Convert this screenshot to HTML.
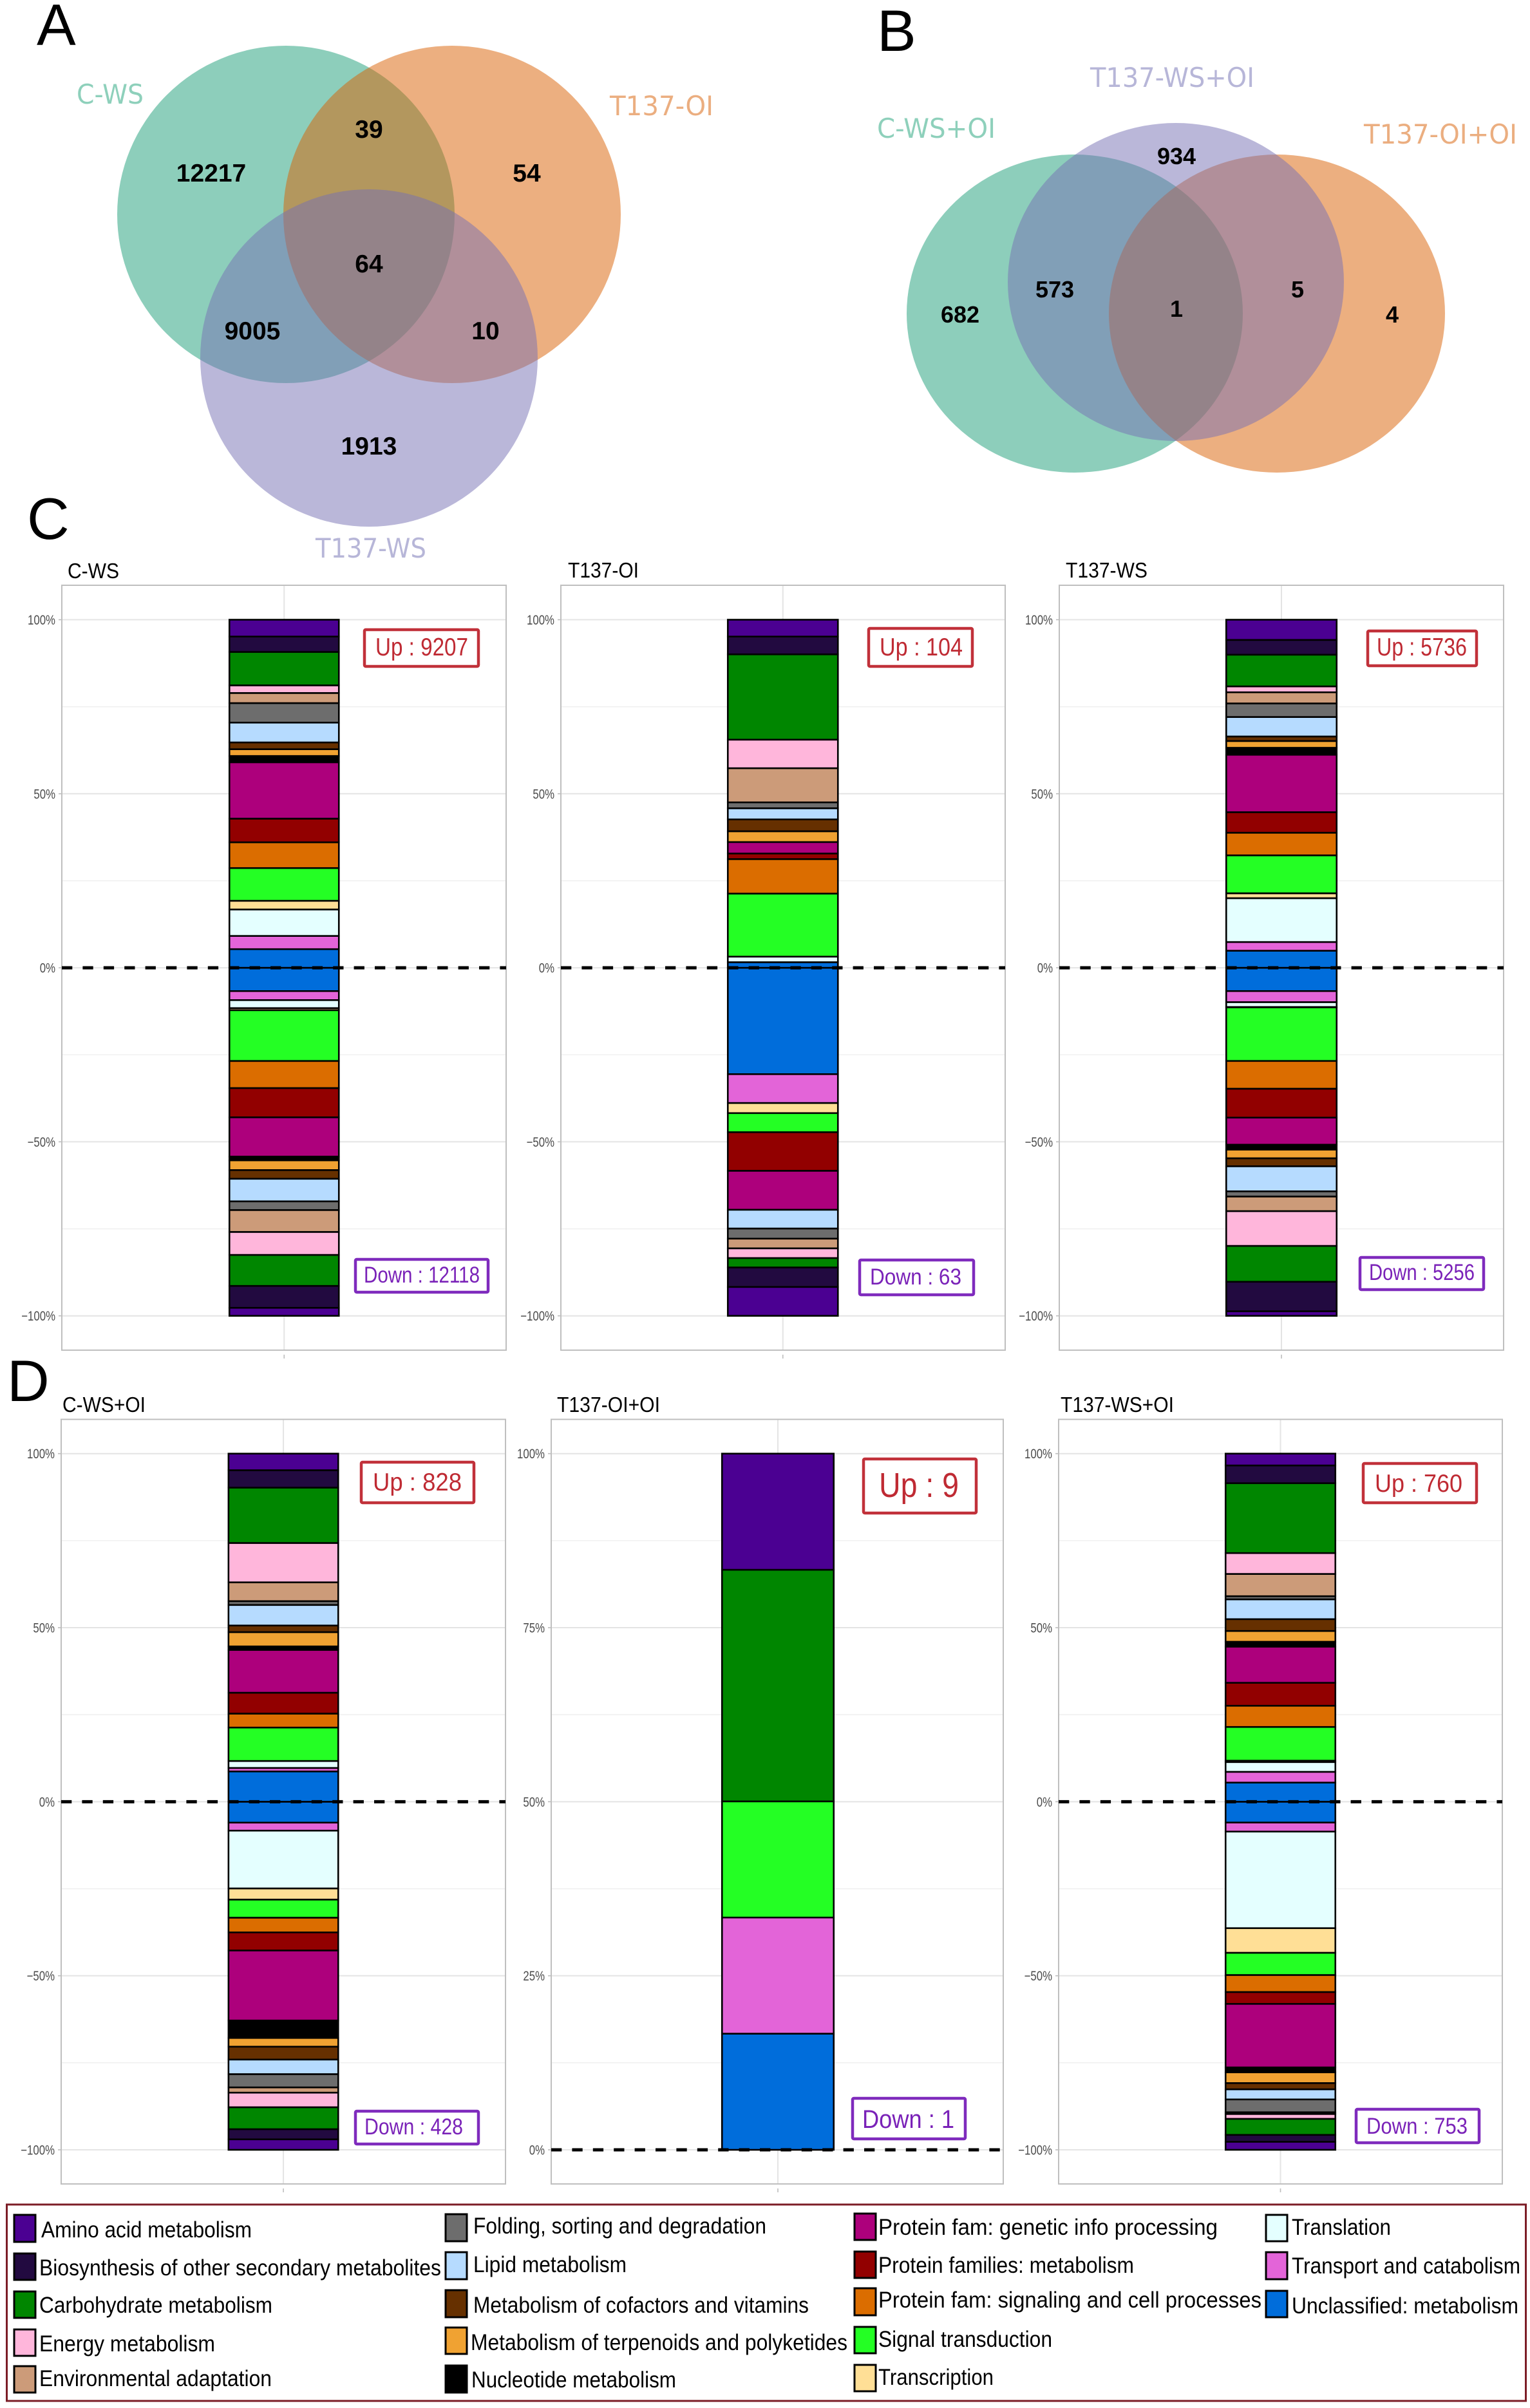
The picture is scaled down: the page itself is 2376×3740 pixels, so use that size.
<!DOCTYPE html>
<html lang="en">
<head>
<meta charset="utf-8">
<title>Venn diagrams and functional category stacked bars</title>
<style>
  html, body { margin: 0; padding: 0; background: #fff; }
  svg { display: block; font-family: "Liberation Sans", Arial, sans-serif; }
  .venn-label { font-family: "DejaVu Sans", "Liberation Sans", sans-serif; font-size: 42px; }
  .num-a { font-weight: 700; font-size: 39px; text-anchor: middle; fill: #000; }
  .num-b { font-weight: 700; font-size: 36px; text-anchor: middle; fill: #000; }
  .panel-letter { font-size: 91px; fill: #000; }
  .panel-title { font-size: 33px; fill: #000; }
  .up-box { fill: #fff; stroke: #c1313a; stroke-width: 4.5; }
  .down-box { fill: #fff; stroke: #7f2bbd; stroke-width: 4.5; }
  .up-text { fill: #bf2a33; font-size: 39px; }
  .down-text { fill: #7a22b8; font-size: 35px; }
  .leg-sw { stroke: #000; stroke-width: 3; }
  .leg-tx { font-size: 35px; fill: #000; }
</style>
</head>
<body>
<svg id="figure" xmlns="http://www.w3.org/2000/svg" width="2376" height="3740" viewBox="0 0 2376 3740">
  <rect x="0" y="0" width="2376" height="3740" fill="#fff"/>

  <!-- Panel letters -->
  <text class="panel-letter" x="57" y="70">A</text>
  <text class="panel-letter" x="1362" y="79">B</text>
  <text class="panel-letter" x="42" y="837">C</text>
  <text class="panel-letter" x="11" y="2176">D</text>

  <!-- Venn A -->
  <g>
    <ellipse cx="444" cy="333" rx="262" ry="262" fill="#1b9e77" fill-opacity="0.5"/>
    <ellipse cx="702" cy="333" rx="262" ry="262" fill="#d95f02" fill-opacity="0.5"/>
    <ellipse cx="573" cy="556" rx="262" ry="262" fill="#7570b3" fill-opacity="0.5"/>
    <text class="venn-label" x="119" y="161" fill="#8ed0bb" textLength="104" lengthAdjust="spacingAndGlyphs">C-WS</text>
    <text class="venn-label" x="947" y="179" fill="#ebae80" textLength="161" lengthAdjust="spacingAndGlyphs">T137-OI</text>
    <text class="venn-label" x="490" y="866" fill="#b7b6d8" textLength="172" lengthAdjust="spacingAndGlyphs">T137-WS</text>
    <text class="num-a" x="328" y="282">12217</text>
    <text class="num-a" x="573" y="214">39</text>
    <text class="num-a" x="818" y="282">54</text>
    <text class="num-a" x="573" y="423">64</text>
    <text class="num-a" x="392" y="527">9005</text>
    <text class="num-a" x="754" y="527">10</text>
    <text class="num-a" x="573" y="706">1913</text>
  </g>

  <!-- Venn B -->
  <g>
    <ellipse cx="1669" cy="487" rx="261" ry="247" fill="#1b9e77" fill-opacity="0.5"/>
    <ellipse cx="1983" cy="487" rx="261" ry="247" fill="#d95f02" fill-opacity="0.5"/>
    <ellipse cx="1826" cy="438" rx="261" ry="247" fill="#7570b3" fill-opacity="0.5"/>
    <text class="venn-label" x="1693" y="135" fill="#b7b6d8" textLength="255" lengthAdjust="spacingAndGlyphs">T137-WS+OI</text>
    <text class="venn-label" x="1362" y="214" fill="#8ed0bb" textLength="184" lengthAdjust="spacingAndGlyphs">C-WS+OI</text>
    <text class="venn-label" x="2118" y="223" fill="#ebae80" textLength="238" lengthAdjust="spacingAndGlyphs">T137-OI+OI</text>
    <text class="num-b" x="1827" y="255">934</text>
    <text class="num-b" x="1638" y="462">573</text>
    <text class="num-b" x="1491" y="501">682</text>
    <text class="num-b" x="1827" y="492">1</text>
    <text class="num-b" x="2015" y="462">5</text>
    <text class="num-b" x="2162" y="501">4</text>
  </g>

  <!-- Panel titles -->
  <text class="panel-title" x="105" y="898" textLength="80" lengthAdjust="spacingAndGlyphs">C-WS</text>
  <text class="panel-title" x="882" y="897" textLength="110" lengthAdjust="spacingAndGlyphs">T137-OI</text>
  <text class="panel-title" x="1655" y="897" textLength="127" lengthAdjust="spacingAndGlyphs">T137-WS</text>
  <text class="panel-title" x="97" y="2193" textLength="129" lengthAdjust="spacingAndGlyphs">C-WS+OI</text>
  <text class="panel-title" x="865" y="2193" textLength="160" lengthAdjust="spacingAndGlyphs">T137-OI+OI</text>
  <text class="panel-title" x="1647" y="2193" textLength="176" lengthAdjust="spacingAndGlyphs">T137-WS+OI</text>

  <g id="plots"></g>

  <!-- Up / Down annotations -->
  <g>
    <rect class="up-box" x="566" y="978" width="177" height="57" rx="2"/>
    <text class="up-text" x="583" y="1018" textLength="144" lengthAdjust="spacingAndGlyphs">Up : 9207</text>
    <rect class="down-box" x="552" y="1956" width="206" height="51" rx="2"/>
    <text class="down-text" x="565" y="1992" textLength="180" lengthAdjust="spacingAndGlyphs">Down : 12118</text>

    <rect class="up-box" x="1349" y="976" width="161" height="59" rx="2"/>
    <text class="up-text" x="1366" y="1018" textLength="129" lengthAdjust="spacingAndGlyphs">Up : 104</text>
    <rect class="down-box" x="1335" y="1957" width="177" height="54" rx="2"/>
    <text class="down-text" x="1351" y="1995" textLength="142" lengthAdjust="spacingAndGlyphs">Down : 63</text>

    <rect class="up-box" x="2124" y="980" width="169" height="54" rx="2"/>
    <text class="up-text" x="2138" y="1018" textLength="140" lengthAdjust="spacingAndGlyphs">Up : 5736</text>
    <rect class="down-box" x="2112" y="1953" width="192" height="50" rx="2"/>
    <text class="down-text" x="2126" y="1988" textLength="164" lengthAdjust="spacingAndGlyphs">Down : 5256</text>

    <rect class="up-box" x="561" y="2271" width="175" height="63" rx="2"/>
    <text class="up-text" x="579" y="2315" textLength="138" lengthAdjust="spacingAndGlyphs">Up : 828</text>
    <rect class="down-box" x="552" y="3279" width="191" height="51" rx="2"/>
    <text class="down-text" x="566" y="3315" textLength="153" lengthAdjust="spacingAndGlyphs">Down : 428</text>

    <rect class="up-box" x="1341" y="2266" width="175" height="84" rx="2"/>
    <text class="up-text" x="1365" y="2325" style="font-size:54px" textLength="124" lengthAdjust="spacingAndGlyphs">Up : 9</text>
    <rect class="down-box" x="1324" y="3259" width="175" height="63" rx="2"/>
    <text class="down-text" x="1339" y="3305" style="font-size:40px" textLength="143" lengthAdjust="spacingAndGlyphs">Down : 1</text>

    <rect class="up-box" x="2117" y="2273" width="176" height="61" rx="2"/>
    <text class="up-text" x="2135" y="2317" textLength="136" lengthAdjust="spacingAndGlyphs">Up : 760</text>
    <rect class="down-box" x="2106" y="3276" width="191" height="52" rx="2"/>
    <text class="down-text" x="2122" y="3314" textLength="157" lengthAdjust="spacingAndGlyphs">Down : 753</text>
  </g>

  <!-- Legend -->
  <g>
    <rect x="10.5" y="3424" width="2359" height="305" fill="none" stroke="#7c1d27" stroke-width="3"/>

    <g><rect class="leg-sw" x="22" y="3440" width="33" height="42" fill="#4b0092"/><text class="leg-tx" x="64" y="3475" textLength="327" lengthAdjust="spacingAndGlyphs">Amino acid metabolism</text></g>
    <g><rect class="leg-sw" x="22" y="3500" width="33" height="41" fill="#220a40"/><text class="leg-tx" x="61" y="3534" textLength="624" lengthAdjust="spacingAndGlyphs">Biosynthesis of other secondary metabolites</text></g>
    <g><rect class="leg-sw" x="22" y="3559" width="33" height="41" fill="#008600"/><text class="leg-tx" x="61" y="3592" textLength="362" lengthAdjust="spacingAndGlyphs">Carbohydrate metabolism</text></g>
    <g><rect class="leg-sw" x="22" y="3618" width="33" height="41" fill="#ffb6db"/><text class="leg-tx" x="61" y="3652" textLength="273" lengthAdjust="spacingAndGlyphs">Energy metabolism</text></g>
    <g><rect class="leg-sw" x="22" y="3675" width="33" height="41" fill="#cc9b79"/><text class="leg-tx" x="61" y="3706" textLength="361" lengthAdjust="spacingAndGlyphs">Environmental adaptation</text></g>

    <g><rect class="leg-sw" x="692" y="3439" width="33" height="42" fill="#6d6d6d"/><text class="leg-tx" x="735" y="3469" textLength="455" lengthAdjust="spacingAndGlyphs">Folding, sorting and degradation</text></g>
    <g><rect class="leg-sw" x="692" y="3498" width="33" height="42" fill="#b6dbff"/><text class="leg-tx" x="735" y="3529" textLength="238" lengthAdjust="spacingAndGlyphs">Lipid metabolism</text></g>
    <g><rect class="leg-sw" x="692" y="3557" width="33" height="42" fill="#663000"/><text class="leg-tx" x="735" y="3592" textLength="521" lengthAdjust="spacingAndGlyphs">Metabolism of cofactors and vitamins</text></g>
    <g><rect class="leg-sw" x="692" y="3615" width="33" height="41" fill="#f0a232"/><text class="leg-tx" x="731" y="3650" textLength="585" lengthAdjust="spacingAndGlyphs">Metabolism of terpenoids and polyketides</text></g>
    <g><rect class="leg-sw" x="692" y="3674" width="33" height="42" fill="#000"/><text class="leg-tx" x="732" y="3708" textLength="318" lengthAdjust="spacingAndGlyphs">Nucleotide metabolism</text></g>

    <g><rect class="leg-sw" x="1327" y="3438" width="33" height="41" fill="#ad007c"/><text class="leg-tx" x="1364" y="3471" textLength="527" lengthAdjust="spacingAndGlyphs">Protein fam: genetic info processing</text></g>
    <g><rect class="leg-sw" x="1327" y="3497" width="33" height="41" fill="#920000"/><text class="leg-tx" x="1364" y="3530" textLength="397" lengthAdjust="spacingAndGlyphs">Protein families: metabolism</text></g>
    <g><rect class="leg-sw" x="1327" y="3554" width="33" height="42" fill="#db6d00"/><text class="leg-tx" x="1364" y="3584" textLength="595" lengthAdjust="spacingAndGlyphs">Protein fam: signaling and cell processes</text></g>
    <g><rect class="leg-sw" x="1327" y="3614" width="33" height="41" fill="#24ff24"/><text class="leg-tx" x="1364" y="3645" textLength="270" lengthAdjust="spacingAndGlyphs">Signal transduction</text></g>
    <g><rect class="leg-sw" x="1327" y="3673" width="33" height="41" fill="#ffdf96"/><text class="leg-tx" x="1364" y="3704" textLength="179" lengthAdjust="spacingAndGlyphs">Transcription</text></g>

    <g><rect class="leg-sw" x="1966" y="3440" width="33" height="41" fill="#e4ffff"/><text class="leg-tx" x="2006" y="3471" textLength="154" lengthAdjust="spacingAndGlyphs">Translation</text></g>
    <g><rect class="leg-sw" x="1966" y="3498" width="33" height="42" fill="#e364d8"/><text class="leg-tx" x="2006" y="3531" textLength="355" lengthAdjust="spacingAndGlyphs">Transport and catabolism</text></g>
    <g><rect class="leg-sw" x="1966" y="3558" width="33" height="41" fill="#006ddb"/><text class="leg-tx" x="2006" y="3593" textLength="352" lengthAdjust="spacingAndGlyphs">Unclassified: metabolism</text></g>
  </g>
</svg>

<script>
// Category order, top of the stack to the zero line
const categories = ["amino-acid","biosynthesis","carbohydrate","energy","environmental","folding","lipid","cofactors","terpenoids","nucleotide","genetic-info","protein-families","signaling","signal-transduction","transcription","translation","transport","unclassified"];
const categoryColors = ["#4b0092","#220a40","#008600","#ffb6db","#cc9b79","#6d6d6d","#b6dbff","#663000","#f0a232","#000000","#ad007c","#920000","#db6d00","#24ff24","#ffdf96","#e4ffff","#e364d8","#006ddb"];

// Percent of genes in each category, same order as categories
const cwsUp   = [4.84,4.42,9.6,2.2,2.9,5.6,5.7,1.95,1.95,1.8,16.2,6.8,7.4,9.4,2.5,7.6,3.8,5.35];
const cwsDown = [2.3,6.3,8.9,6.6,6.3,2.5,6.5,2.5,2.8,1.06,11.3,8.4,7.8,14.6,0.6,2.3,2.6,6.7];
const oiUp    = [4.84,5.1,24.5,8.2,9.8,1.7,3.2,3.4,3.1,0,3.3,1.6,9.9,18.1,0,1.6,0,1.6];
const oiDown  = [8.3,5.6,2.7,2.8,2.8,2.9,5.4,0,0,0,11.2,11.1,0,5.5,2.9,0,8.3,30.6];
const wsUp    = [5.8,4.25,9.1,1.7,3.2,3.9,5.6,1.3,1.95,2.0,16.5,5.9,6.5,10.9,1.4,12.6,2.5,4.9];
const wsDown  = [1.3,8.5,10.3,10,4.2,1.5,7.2,2.3,2.5,1.4,7.8,8.3,8.0,15.4,0.1,1.4,3.2,6.7];
const cwsOiUp   = [4.76,5.0,15.9,11.3,5.4,1.1,5.9,1.9,4.1,1.0,12.3,6.0,4.0,9.6,0,2.0,1.0,8.7];
const cwsOiDown = [3.0,2.9,6.3,4.2,1.5,3.8,4.2,3.7,2.5,5.0,20.1,5.2,4.2,5.2,3.2,16.6,2.3,6.0];
const oiOiUp    = [16.7,0,33.3,0,0,0,0,0,0,0,0,0,0,16.7,0,0,16.7,16.7];
const oiOiDown  = [];
const wsOiUp    = [3.4,5.1,20.1,6,6.4,0.9,5.7,3.4,3.1,1.4,10.4,6.6,6.1,9.7,0.4,2.8,3.1,5.5];
const wsOiDown  = [2.3,2,4.6,1.4,0.5,3.7,2.9,1.8,3.1,1.4,18.3,3.4,4.9,6.4,7.1,27.8,2.6,6.0];

// Axis ticks
const divergingTicks = [100,50,0,-50,-100];
const positiveTicks  = [100,75,50,25,0];

const SVG_NS = "http://www.w3.org/2000/svg";
const plots = document.getElementById("plots");

function mk(parent, tag, attrs) {
  const el = document.createElementNS(SVG_NS, tag);
  for (const k in attrs) el.setAttribute(k, attrs[k]);
  parent.appendChild(el);
  return el;
}

function sum(arr) {
  return arr.reduce(function (a, b) { return a + b; }, 0);
}

function tickText(v) {
  return (v < 0 ? "\u2212" + Math.abs(v) : String(v)) + "%";
}

function drawStack(g, values, sign, yScale, barL, barR, key) {
  const total = sum(values);
  if (!total) return;
  let acc = 0;
  for (let i = values.length - 1; i >= 0; i--) {
    const v = values[i] / total * 100;
    if (v <= 0) continue;
    const y0 = yScale(sign * acc);
    const y1 = yScale(sign * (acc + v));
    acc += v;
    const seg = mk(g, "rect", {
      x: barL + 1.25,
      y: Math.min(y0, y1),
      width: barR - barL - 2.5,
      height: Math.abs(y1 - y0),
      fill: categoryColors[i],
      stroke: "#000",
      "stroke-width": 2.6
    });
    
    
  }
}

function drawPanel(key, up, down, ticks, box) {
  const maxV = ticks[0];
  const minV = ticks[ticks.length - 1];
  const yScale = function (v) {
    return box.yTop + (maxV - v) / (maxV - minV) * (box.yBottom - box.yTop);
  };
  const xCenter = (box.barL + box.barR) / 2;

  const g = mk(plots, "g", {});
  
  

  const plotBg = mk(g, "rect", { x: box.left, y: box.top, width: box.right - box.left, height: box.bottom - box.top, fill: "#fff" });
  
  

  // minor grid
  for (let i = 0; i < ticks.length - 1; i++) {
    const yM = yScale((ticks[i] + ticks[i + 1]) / 2);
    const minor = mk(g, "line", { x1: box.left, x2: box.right, y1: yM, y2: yM, stroke: "#f0f0f0", "stroke-width": 1.6 });
    
    
  }
  // major grid, ticks and labels
  ticks.forEach(function (t) {
    const yT = yScale(t);
    const major = mk(g, "line", { x1: box.left, x2: box.right, y1: yT, y2: yT, stroke: "#e4e4e4", "stroke-width": 2 });
    
    

    const mark = mk(g, "line", { x1: box.left - 5, x2: box.left, y1: yT, y2: yT, stroke: "#bdbdbd", "stroke-width": 1.6 });
    
    

    const label = mk(g, "text", {
      transform: "translate(" + (box.left - 10) + "," + (yT + 7.5) + ") scale(0.8,1)",
      "text-anchor": "end",
      "font-size": 21,
      fill: "#4d4d4d"
    });
    label.textContent = tickText(t);
    
    
  });

  const vGrid = mk(g, "line", { x1: xCenter, x2: xCenter, y1: box.top, y2: box.bottom, stroke: "#e4e4e4", "stroke-width": 2 });
  
  

  const xMark = mk(g, "line", { x1: xCenter, x2: xCenter, y1: box.bottom + 7, y2: box.bottom + 13, stroke: "#bdbdbd", "stroke-width": 1.6 });
  
  

  const frame = mk(g, "rect", { x: box.left, y: box.top, width: box.right - box.left, height: box.bottom - box.top, fill: "none", stroke: "#bfbfbf", "stroke-width": 2 });
  
  

  drawStack(g, down, -1, yScale, box.barL, box.barR, key);
  drawStack(g, up, 1, yScale, box.barL, box.barR, key);

  const zero = mk(g, "line", { x1: box.left, x2: box.right, y1: yScale(0), y2: yScale(0), stroke: "#000", "stroke-width": 5, "stroke-dasharray": "16.3 16.1" });
  
  
}

drawPanel("c-ws", cwsUp, cwsDown, divergingTicks, { left: 96, right: 786, top: 909, bottom: 2097, yTop: 962.5, yBottom: 2043.7, barL: 355, barR: 527.5 });
drawPanel("t137-oi", oiUp, oiDown, divergingTicks, { left: 871, right: 1561, top: 909, bottom: 2097, yTop: 962.5, yBottom: 2043.7, barL: 1129, barR: 1302.5 });
drawPanel("t137-ws", wsUp, wsDown, divergingTicks, { left: 1645, right: 2335, top: 909, bottom: 2097, yTop: 962.5, yBottom: 2043.7, barL: 1903, barR: 2077 });
drawPanel("c-ws-oi", cwsOiUp, cwsOiDown, divergingTicks, { left: 95, right: 785, top: 2204.5, bottom: 3392, yTop: 2257.7, yBottom: 3339, barL: 353.6, barR: 526.5 });
drawPanel("t137-oi-oi", oiOiUp, oiOiDown, positiveTicks, { left: 856, right: 1558, top: 2204.5, bottom: 3392, yTop: 2257.7, yBottom: 3339, barL: 1120, barR: 1296 });
drawPanel("t137-ws-oi", wsOiUp, wsOiDown, divergingTicks, { left: 1644, right: 2333, top: 2204.5, bottom: 3392, yTop: 2257.7, yBottom: 3339, barL: 1902, barR: 2075 });
</script>
</body>
</html>
